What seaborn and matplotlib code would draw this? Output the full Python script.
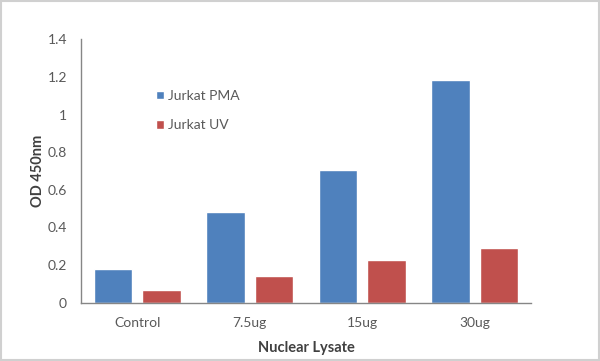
import matplotlib

matplotlib.use("Agg")

import matplotlib.pyplot as plt
import pandas as pd
import seaborn as sns
from matplotlib.patches import Rectangle

categories = ["Control", "7.5ug", "15ug", "30ug"]
series_names = ["Jurkat PMA", "Jurkat UV"]
pma_values = [0.178, 0.484, 0.705, 1.184]
uv_values = [0.067, 0.144, 0.225, 0.289]
y_ticks = [0, 0.2, 0.4, 0.6, 0.8, 1, 1.2, 1.4]
y_tick_labels = ["0", "0.2", "0.4", "0.6", "0.8", "1", "1.2", "1.4"]

COLORS = ["#4F81BD", "#C0504D"]
TEXT = "#595959"

df = pd.DataFrame(
    {
        "Nuclear Lysate": categories * 2,
        "OD 450nm": pma_values + uv_values,
        "series": [series_names[0]] * 4 + [series_names[1]] * 4,
    }
)

sns.set_style("white")
plt.rcParams["font.family"] = ["Lato", "DejaVu Sans"]

fig = plt.figure(figsize=(6.0, 3.61), dpi=100)
ax = fig.add_axes([0.135, 0.1615, 0.75, 0.7295])

sns.barplot(
    data=df,
    x="Nuclear Lysate",
    y="OD 450nm",
    hue="series",
    order=categories,
    hue_order=series_names,
    palette=COLORS,
    width=0.86,
    gap=0.2,
    saturation=1,
    ax=ax,
)

ax.set_ylim(0, 1.4)
ax.set_xlim(-0.5, 3.5)
ax.set_yticks(y_ticks)
ax.set_yticklabels(y_tick_labels)
ax.tick_params(axis="both", length=0, labelsize=10, labelcolor=TEXT)
ax.tick_params(axis="x", pad=10)
ax.tick_params(axis="y", pad=10)
ax.set_xlabel("Nuclear Lysate", fontsize=10.5, fontweight="bold", color="#404040", labelpad=9)
ax.set_ylabel("OD 450nm", fontsize=10.5, fontweight="bold", color="#404040", labelpad=2)

for side in ["top", "right"]:
    ax.spines[side].set_visible(False)
for side in ["left", "bottom"]:
    ax.spines[side].set_color("#868686")
    ax.spines[side].set_linewidth(1.0)

handles, labels = ax.get_legend_handles_labels()
ax.legend(
    handles,
    labels,
    loc="upper left",
    bbox_to_anchor=(156 / 600, 1 - 90 / 361),
    bbox_transform=fig.transFigure,
    frameon=False,
    fontsize=10,
    labelcolor=TEXT,
    handlelength=0.55,
    handleheight=0.55,
    handletextpad=0.35,
    labelspacing=1.25,
    borderpad=0,
    borderaxespad=0,
)

fig.patches.append(
    Rectangle((0.001, 0.002), 0.997, 0.995, transform=fig.transFigure,
              fill=False, edgecolor="#D0D0D0", linewidth=1.5)
)

fig.savefig("out.png", dpi=100)
